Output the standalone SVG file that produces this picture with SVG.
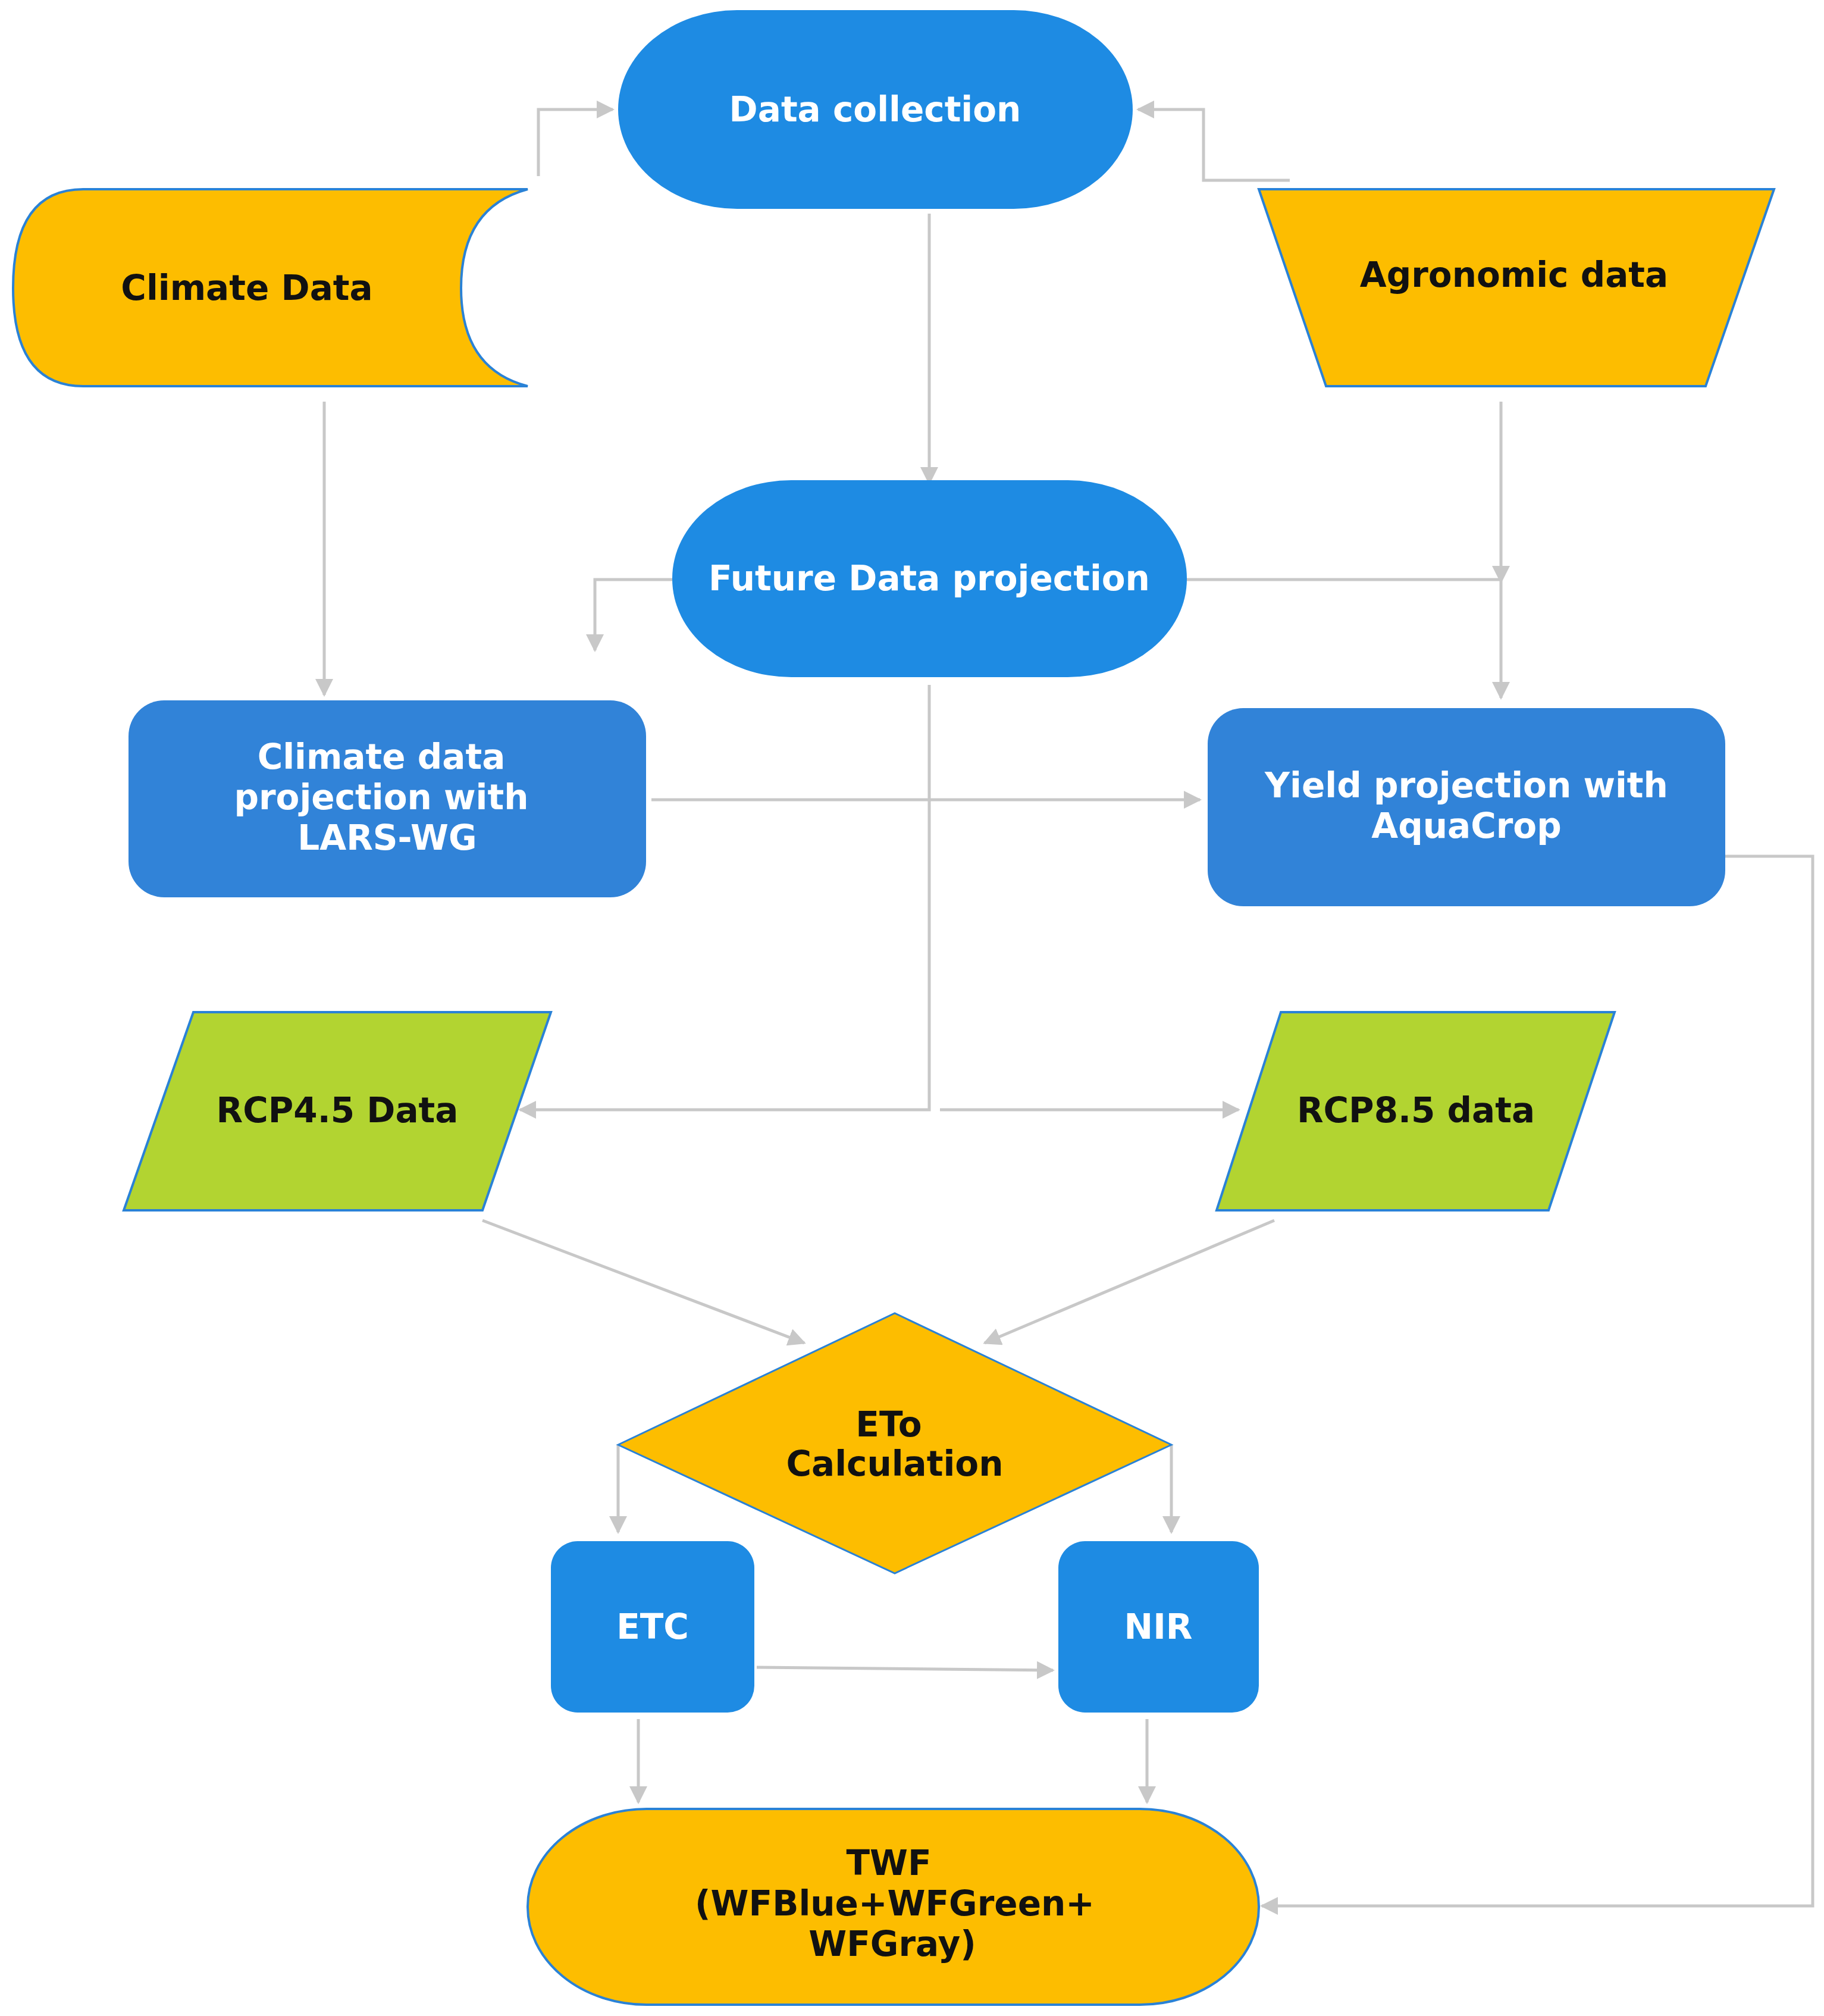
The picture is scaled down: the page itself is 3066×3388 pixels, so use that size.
<svg xmlns="http://www.w3.org/2000/svg" width="3066" height="3388" viewBox="0 0 3066 3388">
<style>
.c{fill:none;stroke:#c8c8c8;stroke-width:5}
.t{font-family:"DejaVu Sans",sans-serif;font-weight:bold;font-size:58px;text-anchor:middle}
.w{fill:#fff}.k{fill:#111}
.b1{fill:#1e8be3}.b2{fill:#3183d8}
.o{fill:#fdbd00;stroke:#2a82d6;stroke-width:4}
.g{fill:#b2d431;stroke:#2a82d6;stroke-width:4}
</style>
<defs>
<marker id="a" viewBox="0 0 10 10" refX="9" refY="5" markerWidth="6" markerHeight="6" orient="auto" markerUnits="strokeWidth"><path d="M0,0L10,5L0,10z" fill="#c8c8c8"/></marker>
</defs>
<rect width="3066" height="3388" fill="#fff"/>
<g id="connectors">
<path class="c" d="M905,296V184H1030" marker-end="url(#a)"/>
<path class="c" d="M2168,303H2023V184H1913" marker-end="url(#a)"/>
<path class="c" d="M1562,359V812" marker-end="url(#a)"/>
<path class="c" d="M545,675V1168" marker-end="url(#a)"/>
<path class="c" d="M2523,675V978" marker-end="url(#a)"/>
<path class="c" d="M2523,978V1173" marker-end="url(#a)"/>
<path class="c" d="M1130,974H1000V1093" marker-end="url(#a)"/>
<path class="c" d="M1995,974H2523"/>
<path class="c" d="M1562,1151V1865H874" marker-end="url(#a)"/>
<path class="c" d="M1580,1865H2082" marker-end="url(#a)"/>
<path class="c" d="M1095,1344H2017" marker-end="url(#a)"/>
<path class="c" d="M2900,1439H3047V3203H2121" marker-end="url(#a)"/>
<path class="c" d="M811,2051L1352,2257" marker-end="url(#a)"/>
<path class="c" d="M2142,2051L1655,2257" marker-end="url(#a)"/>
<path class="c" d="M1039,2428V2575" marker-end="url(#a)"/>
<path class="c" d="M1969,2428V2575" marker-end="url(#a)"/>
<path class="c" d="M1272,2802L1770,2807" marker-end="url(#a)"/>
<path class="c" d="M1073,2889V3029" marker-end="url(#a)"/>
<path class="c" d="M1928,2889V3029" marker-end="url(#a)"/>
</g>
<g id="data-collection"><rect class="b1" x="1039" y="17" width="865" height="334" rx="200" ry="167"/><text class="t w" x="1471" y="204">Data collection</text></g>
<g id="climate-data"><path class="o" d="M887,318H140Q22,318 22,484Q22,649 140,649H887Q775,620 775,484Q775,348 887,318Z"/><text class="t k" x="415" y="504">Climate Data</text></g>
<g id="agronomic-data"><path class="o" d="M2116,318H2982L2867,649H2229Z"/><text class="t k" x="2545" y="482">Agronomic data</text></g>
<g id="future-data"><rect class="b1" x="1130" y="807" width="865" height="331" rx="200" ry="165"/><text class="t w" x="1562" y="992">Future Data projection</text></g>
<g id="climate-proj"><rect class="b2" x="216" y="1177" width="870" height="331" rx="60"/><text class="t w" x="641" y="1292">Climate data</text><text class="t w" x="641" y="1360">projection with</text><text class="t w" x="651" y="1428">LARS-WG</text></g>
<g id="yield-proj"><rect class="b2" x="2030" y="1190" width="870" height="333" rx="60"/><text class="t w" x="2465" y="1340">Yield projection with</text><text class="t w" x="2465" y="1408">AquaCrop</text></g>
<g id="rcp45"><path class="g" d="M325,1701H926L811,2034H208Z"/><text class="t k" x="567" y="1886">RCP4.5 Data</text></g>
<g id="rcp85"><path class="g" d="M2153,1701H2714L2603,2034H2045Z"/><text class="t k" x="2380" y="1886">RCP8.5 data</text></g>
<g id="eto"><path d="M1039,2428L1504,2207L1969,2428L1504,2644Z" fill="#fdbd00" stroke="#2a82d6" stroke-width="3"/><text class="t k" x="1494" y="2414">ETo</text><text class="t k" x="1504" y="2480">Calculation</text></g>
<g id="etc"><rect class="b1" x="926" y="2590" width="342" height="288" rx="45"/><text class="t w" x="1097" y="2754">ETC</text></g>
<g id="nir"><rect class="b1" x="1779" y="2590" width="337" height="288" rx="45"/><text class="t w" x="1947" y="2754">NIR</text></g>
<g id="twf"><rect class="o" x="887" y="3040" width="1229" height="329" rx="200" ry="164"/><text class="t k" x="1494" y="3151">TWF</text><text class="t k" x="1504" y="3219">(WFBlue+WFGreen+</text><text class="t k" x="1500" y="3287">WFGray)</text></g>
</svg>
